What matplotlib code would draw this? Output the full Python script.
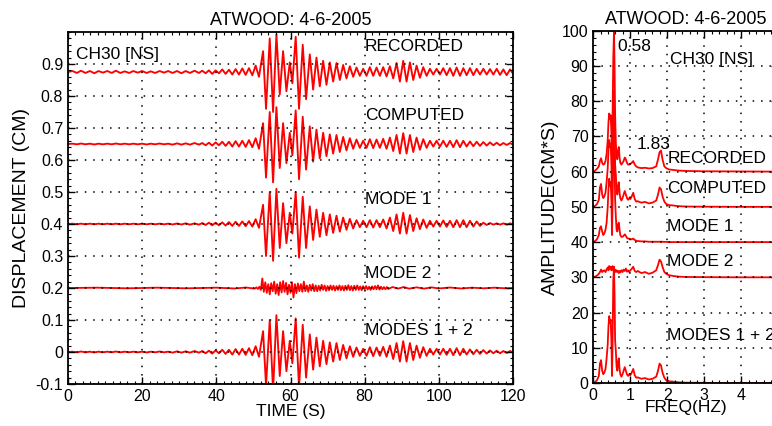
import numpy as np
import matplotlib
matplotlib.use("Agg")
import matplotlib.pyplot as plt
from matplotlib.ticker import MultipleLocator, FuncFormatter

plt.rcParams['font.family'] = ['Liberation Sans', 'DejaVu Sans']

# ---------------- time histories (extrema) ----------------
# times of the successive peaks / troughs (s)
t_ext = [0, 1.2, 2.4, 3.5, 4.7, 5.9, 7.1, 8.2, 9.4, 10.6, 11.8, 12.9, 14.1, 15.3, 16.5,
         17.6, 18.8, 20.0, 21.2, 22.3, 23.5, 24.7, 25.9, 27.0, 28.2, 29.4, 30.6, 31.7,
         32.9, 34.1, 35.3,
         36.2, 37.1, 38.0, 38.9, 39.8, 40.7, 41.6, 42.5, 43.4, 44.3, 45.2, 46.1, 47.0,
         47.9, 48.8, 49.7, 50.6, 51.5,
         52.6, 53.4, 54.4, 55.3, 56.2, 57.1, 58.0, 58.9, 59.8, 60.5, 61.4, 62.3, 63.3,
         64.2, 65.2, 66.1,
         67.0, 67.9, 68.8, 69.7, 70.6, 71.5, 72.4, 73.3, 74.2, 75.1, 76.0, 76.9, 77.8,
         78.7, 79.6, 80.5, 81.4, 82.3, 83.2, 84.1, 85.0, 85.9, 86.8, 87.7, 88.6, 89.5,
         90.4, 91.3, 92.2, 93.1, 94.0, 94.9, 95.8, 96.7, 97.6, 98.5, 99.4, 100.3, 101.2,
         102.1, 103.0, 103.9, 104.8, 105.7, 106.6, 107.5, 108.4, 109.3, 110.2, 111.1,
         112.0, 112.9, 113.8, 114.7, 115.6, 116.5, 117.4, 118.3, 119.2, 120.0]

# displacement about each trace's own baseline (cm)
recorded = [0, .003, -.003, .004, -.003, .003, -.004, .003, -.002, .003, -.003, .004,
            -.003, .002, -.003, .003, -.002, .003, -.003, .002, -.003, .003, -.002, .003,
            -.003, .003, -.004, .003, -.003, .004, -.003,
            .004, -.004, .005, -.006, .005, -.004, .008, -.006, .007, -.008, .009, -.008,
            .011, -.009, .012, -.010, .020, -.015,
            .065, -.115, .105, -.125, .118, -.070, .065, -.060, .030, -.035, .110, -.115,
            .085, -.085, .055, -.055,
            .045, -.045, .035, -.040, .030, -.030, .028, -.025, .022, -.020, .018, -.015,
            .014, -.012, .010, -.012, .015, -.012, .014, -.012, .015, -.014, .018, -.020,
            .028, -.030, .035, -.030, .030, -.025, .020, -.018, .015, -.012, .010, -.008,
            .010, -.008, .012, -.010, .012, -.012, .014, -.012, .012, -.010, .012, -.010,
            .010, -.008, .010, -.008, .009, -.008, .010, -.009, .008, -.010, .008, -.005]

computed = [0, .001, -.001, .0015, -.001, .001, -.0015, .001, -.001, .001, -.001, .0015,
            -.001, .001, -.001, .001, -.001, .001, -.0015, .001, -.001, .0015, -.001, .001,
            -.002, .002, -.002, .002, -.002, .003, -.002,
            .003, -.004, .004, -.005, .005, -.004, .007, -.006, .007, -.008, .009, -.008,
            .010, -.009, .012, -.010, .018, -.015,
            .065, -.105, .100, -.120, .115, -.075, .065, -.060, .035, -.035, .105, -.110,
            .085, -.080, .055, -.055,
            .045, -.045, .035, -.038, .030, -.030, .028, -.025, .022, -.020, .018, -.015,
            .014, -.012, .010, -.012, .015, -.013, .014, -.012, .016, -.015, .020, -.022,
            .028, -.030, .034, -.030, .028, -.025, .020, -.018, .015, -.012, .010, -.008,
            .010, -.008, .010, -.009, .010, -.010, .012, -.010, .010, -.008, .008, -.007,
            .007, -.006, .006, -.005, .005, -.004, .004, -.004, .003, -.003, .003, -.002]

mode1 = [0, .001, -.001, .001, -.001, .001, -.001, .001, -.001, .001, -.001, .001,
         -.001, .001, -.001, .001, -.001, .001, -.001, .001, -.001, .001, -.001, .001,
         -.0015, .0015, -.0015, .002, -.002, .002, -.002,
         .003, -.003, .004, -.004, .004, -.004, .005, -.005, .006, -.006, .007, -.006,
         .008, -.007, .009, -.008, .015, -.012,
         .060, -.100, .100, -.115, .110, -.075, .065, -.060, .035, -.030, .100, -.105,
         .085, -.075, .055, -.050,
         .045, -.040, .035, -.035, .030, -.028, .026, -.024, .020, -.018, .016, -.014,
         .012, -.010, .010, -.010, .012, -.011, .012, -.010, .014, -.014, .020, -.022,
         .030, -.030, .035, -.030, .028, -.022, .018, -.016, .014, -.012, .010, -.008,
         .010, -.008, .011, -.009, .010, -.010, .012, -.010, .012, -.010, .010, -.008,
         .008, -.006, .004, -.003, .003, -.002, .002, -.002, .002, -.002, .002, -.001]

modes12 = computed  # the computed trace is the sum of modes 1 + 2

# mode 2 is high frequency: quiet start, sampled burst, quiet tail
mode2_t_early = [0, 8, 16, 24, 32, 40, 45, 48, 50.4]
mode2_early = [0, .001, -.001, .001, -.001, .001, -.0015, .0015, -.002]
mode2_t0, mode2_dt = 50.8, 0.4
mode2_burst = [.002, -.003, .004, -.006, .030, -.012, .018, -.015, .012, -.020,
               .015, -.010, .020, -.018, .012, -.022, .018, -.014, .022, -.012,
               .016, -.020, .010, -.015, .018, -.030, .012, -.016, .014, -.010,
               .012, -.012, .020, -.010, .008, -.012, .010, -.008, .012, -.010,
               .008, -.010, .007, -.008, .010, -.006, .008, -.009, .006, -.007,
               .008, -.006, .007, -.008, .006, -.006, .008, -.007, .006, -.008,
               .007, -.006, .009, -.007, .006, -.008, .007, -.006, .008, -.006,
               .005, -.007, .006, -.005, .006, -.005, .004, -.006, .005, -.004,
               .006, -.004, .008, -.005, .004, -.004, .003, -.004, .003, -.003]
mode2_t_late = [87.5, 89, 90.5, 92, 94, 96, 98, 100, 103, 106, 109, 112, 115, 118, 120]
mode2_late = [.003, -.002, .003, -.002, .002, -.002, .002, -.0015, .0015, -.0015,
              .001, -.001, .001, -.001, 0]

trace_labels = ["RECORDED", "COMPUTED", "MODE 1", "MODE 2", "MODES 1 + 2"]
trace_offsets = [0.875, 0.65, 0.40, 0.20, 0.0]
trace_label_y = [0.956, 0.738, 0.476, 0.245, 0.068]

# ---------------- Fourier amplitude spectra ----------------
freq = [0, 0.05, 0.1, 0.15, 0.18, 0.21, 0.24, 0.27, 0.3, 0.33, 0.36, 0.39, 0.41, 0.43,
        0.45, 0.47, 0.49, 0.505, 0.52, 0.54, 0.56, 0.575, 0.59, 0.61, 0.63, 0.65, 0.67,
        0.69, 0.71, 0.73, 0.76, 0.79, 0.82, 0.85, 0.88, 0.91, 0.94, 0.97, 1.0, 1.04,
        1.08, 1.12, 1.16, 1.2, 1.3, 1.4, 1.5, 1.6, 1.7, 1.75, 1.79, 1.83, 1.87, 1.92,
        1.97, 2.05, 2.15, 2.3, 2.5, 3.0, 4.0, 5.0]

spec_recorded = [0, 0.3, 0.8, 1.5, 3.0, 3.8, 2.5, 2.0, 2.2, 3.0, 5.0, 9, 14, 16.5,
                 15, 16, 11, 3, 15, 32, 40, 30, 16, 8, 4, 3.5, 6, 7, 4, 2.5, 2.0, 2.5,
                 3.0, 4.0, 3.5, 2.5, 2.0, 2.0, 2.2, 2.5, 3.0, 2.0, 1.5, 1.2, 1.0, 1.1,
                 0.9, 1.0, 1.5, 3.5, 5.5, 6.0, 3.5, 1.5, 1.0, 0.6, 0.5, 0.3, 0.2, 0.1,
                 0.05, 0]
spec_computed = [0, 0.3, 0.8, 2.0, 5.5, 6.5, 3.5, 2.5, 3.0, 4.0, 7, 11, 16, 19, 17, 18,
                 12, 2, 10, 29, 33, 25, 12, 9, 4.5, 3.5, 6, 7, 4, 2.5, 1.8, 2.5, 3.5,
                 4.5, 3.5, 2.5, 2.0, 2.5, 2.2, 3.0, 4.0, 2.2, 1.5, 1.6, 1.2, 1.4, 1.0,
                 1.2, 1.8, 3.5, 5.5, 5.0, 3.0, 1.5, 0.8, 0.5, 0.4, 0.2, 0.1, 0.05, 0, 0]
spec_mode1 = [0, 0.3, 0.8, 2.0, 4.0, 4.5, 3.0, 2.0, 2.5, 3.5, 5.5, 10, 15, 18, 16, 17,
              12, 2, 10, 27, 31, 24, 12, 7, 3.5, 3.0, 5.0, 5.5, 3.5, 2.0, 1.5, 1.5, 1.8,
              2.2, 1.8, 1.2, 1.0, 1.0, 0.8, 0.8, 1.0, 0.6, 0.4, 0.3, 0.2, 0.2, 0.1, 0.1,
              0.1, 0.1, 0.1, 0.1, 0.1, 0.05, 0.05, 0, 0, 0, 0, 0, 0, 0]
spec_mode2 = [0, 0.2, 0.5, 1.0, 1.5, 2.2, 1.5, 1.8, 2.0, 1.5, 2.2, 2.8, 2.0, 3.2, 2.5,
              3.0, 2.0, 2.5, 3.2, 2.0, 2.5, 1.8, 2.2, 1.5, 2.0, 1.6, 1.8, 1.2, 1.8, 1.4,
              2.0, 1.5, 2.2, 1.8, 2.5, 1.6, 2.0, 1.5, 2.0, 2.4, 3.0, 1.8, 1.5, 1.8, 1.2,
              1.5, 1.0, 1.3, 2.0, 3.5, 5.0, 4.5, 3.0, 1.5, 1.0, 0.6, 0.4, 0.2, 0.1, 0.05,
              0, 0]
spec_modes12 = spec_computed
spec_offsets = [60, 50, 40, 30, 0]
spec_label_y = [63.6, 55.1, 44.4, 34.5, 13.4]

RED = '#ff0000'
grid_kw = dict(color='black', linestyle=(0, (1, 4.5)), linewidth=1.1, zorder=3)


def style_axes(ax):
    ax.tick_params(which='both', direction='in', top=True, right=True, labelsize=11.5)
    ax.tick_params(which='major', length=5, width=1)
    ax.tick_params(which='minor', length=2.5, width=0.8)
    for s in ax.spines.values():
        s.set_linewidth(1.3)
        s.set_zorder(5)
    ax.grid(True, which='major', **grid_kw)
    ax.set_axisbelow(False)


fig = plt.figure(figsize=(7.72, 4.26), dpi=100)

# ---- left: displacement time histories ----
ax1 = fig.add_axes([0.0881, 0.0986, 0.5764, 0.8263])
t = np.array(t_ext)
for vals, off in zip([recorded, computed, mode1], trace_offsets[:3]):
    ax1.plot(t, off + np.array(vals), color=RED, lw=1.35, zorder=2)
m2_t = np.concatenate([mode2_t_early,
                       mode2_t0 + mode2_dt * np.arange(len(mode2_burst)),
                       mode2_t_late])
m2_v = np.concatenate([mode2_early, mode2_burst, mode2_late])
ax1.plot(m2_t, trace_offsets[3] + m2_v, color=RED, lw=1.3, zorder=2)
ax1.plot(t, trace_offsets[4] + np.array(modes12), color=RED, lw=1.35, zorder=2)

for lab, y in zip(trace_labels, trace_label_y):
    ax1.text(80, y, lab, fontsize=12.5, va='center', ha='left', zorder=4)
ax1.text(2.2, 0.931, "CH30 [NS]", fontsize=12.5, va='center', ha='left', zorder=4)

ax1.set_xlim(0, 120)
ax1.set_ylim(-0.1, 1.0)
ax1.xaxis.set_major_locator(MultipleLocator(20))
ax1.xaxis.set_minor_locator(MultipleLocator(2))
ax1.set_yticks([-0.1, 0, 0.1, 0.2, 0.3, 0.4, 0.5, 0.6, 0.7, 0.8, 0.9])
ax1.yaxis.set_minor_locator(MultipleLocator(0.02))
ax1.yaxis.set_major_formatter(FuncFormatter(lambda v, p: "0" if abs(v) < 1e-9 else f"{v:.1f}"))
style_axes(ax1)
ax1.set_xlabel("TIME (S)", fontsize=12.5, labelpad=0)
ax1.set_ylabel("DISPLACEMENT (CM)", fontsize=14, labelpad=4)
ax1.set_title("ATWOOD: 4-6-2005", fontsize=13, pad=5)

# ---- right: Fourier amplitude spectra ----
ax2 = fig.add_axes([0.7685, 0.1009, 0.2397, 0.827])
f = np.array(freq)
for vals, off in zip([spec_recorded, spec_computed, spec_mode1, spec_mode2, spec_modes12],
                     spec_offsets):
    ax2.plot(f, off + np.array(vals), color=RED, lw=1.3, zorder=2)

for lab, y in zip(trace_labels, spec_label_y):
    ax2.text(2.0, y, lab, fontsize=12.5, va='center', ha='left', zorder=4)
ax2.text(2.07, 91.7, "CH30 [NS]", fontsize=12.5, va='center', ha='left', zorder=4)
ax2.text(0.64, 95.4, "0.58", fontsize=12.5, va='center', ha='left', zorder=4)
ax2.text(1.18, 67.8, "1.83", fontsize=12.5, va='center', ha='left', zorder=4)

ax2.set_xlim(0, 5)
ax2.set_ylim(0, 100)
ax2.xaxis.set_major_locator(MultipleLocator(1))
ax2.xaxis.set_minor_locator(MultipleLocator(0.2))
ax2.yaxis.set_major_locator(MultipleLocator(10))
ax2.yaxis.set_minor_locator(MultipleLocator(2))
style_axes(ax2)
ax2.set_xlabel("FREQ(HZ)", fontsize=12.5, labelpad=-2)
ax2.set_ylabel("AMPLITUDE(CM*S)", fontsize=14, labelpad=2)
ax2.set_title("ATWOOD: 4-6-2005", fontsize=13, pad=5)

fig.savefig("out.png", dpi=100)
